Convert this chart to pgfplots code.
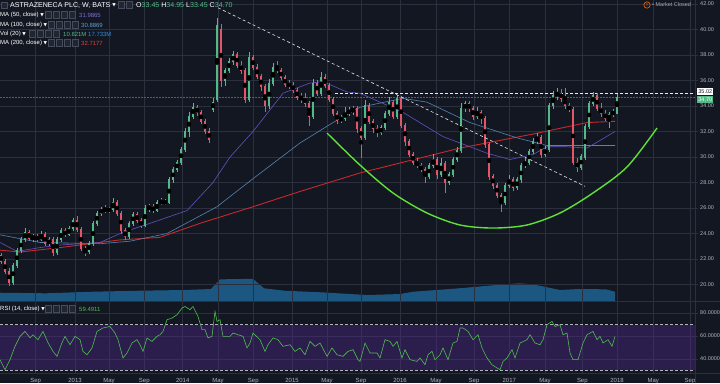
\documentclass[border=0pt]{standalone}
\usepackage{pgfplots}
\pgfplotsset{compat=1.18}
\usepackage{pgfplotstable}
\usepackage{fontspec}
\setmainfont{Liberation Sans}
\newfontfamily\dejavu{DejaVu Sans}
\definecolor{bg}{RGB}{19,23,34}
\definecolor{gridc}{RGB}{44,48,62}
\definecolor{txt}{RGB}{178,181,190}
\definecolor{upc}{RGB}{83,185,135}
\definecolor{dnc}{RGB}{226,86,104}
\definecolor{maA}{RGB}{98,82,190}
\definecolor{maAt}{RGB}{130,110,220}
\definecolor{maB}{RGB}{84,132,176}
\definecolor{maBt}{RGB}{95,160,215}
\definecolor{maC}{RGB}{200,40,45}
\definecolor{maCt}{RGB}{235,60,60}
\definecolor{volc}{RGB}{30,95,140}
\definecolor{volt}{RGB}{50,140,220}
\definecolor{rsic}{RGB}{80,190,80}
\definecolor{band}{RGB}{80,40,140}
\definecolor{cup}{RGB}{95,225,55}
\definecolor{iconc}{RGB}{70,76,92}
\definecolor{iconf}{RGB}{32,37,50}

\pgfplotstableread{
t o h l c
13 20.2 21.7 20.0 21.5
17 21.5 22.9 21.3 22.7
21 22.7 23.7 22.5 23.5
25 23.5 24.4 23.3 24.1
33 23.6 24.0 23.3 23.8
41 23.5 24.2 23.4 23.9
49 23.2 23.7 23.0 23.5
57 22.5 23.7 22.3 23.5
61 23.5 24.4 23.3 24.2
69 23.9 24.6 23.8 24.4
73 24.4 25.2 24.2 25.0
89 22.6 23.4 22.4 23.2
93 23.2 25.0 23.0 24.8
97 24.8 25.8 24.6 25.6
101 25.6 26.1 25.4 25.9
109 25.8 26.1 25.6 25.9
113 25.9 26.8 25.7 26.4
129 23.8 25.0 23.6 24.8
133 24.8 25.7 24.6 25.5
145 24.6 26.2 24.5 26.0
149 26.0 26.3 25.7 26.1
157 25.8 26.6 25.7 26.4
161 26.4 26.8 26.2 26.5
169 26.4 28.4 26.3 28.2
173 28.2 29.2 28.0 29.0
177 29.0 29.8 28.8 29.6
181 29.6 30.8 29.4 30.6
185 30.6 32.3 30.4 32.0
189 32.0 33.5 31.6 33.2
193 33.2 34.2 33.0 33.9
213 33.7 34.6 33.5 34.3
217 34.5 40.9 34.3 40.3
225 36.0 37.0 35.6 36.8
229 36.8 37.8 36.6 37.5
233 37.5 38.3 37.2 38.0
249 34.5 38.2 34.3 37.8
269 34.0 36.1 33.8 35.8
273 35.8 37.4 35.6 37.0
313 33.2 36.1 33.0 35.8
321 35.0 36.7 34.8 36.2
341 32.9 33.3 32.7 33.0
345 33.0 33.9 32.8 33.5
349 33.5 33.9 33.2 33.6
353 33.6 34.0 33.3 33.8
365 31.5 34.5 31.3 34.0
381 31.9 32.5 31.7 32.3
385 32.3 33.6 32.1 33.4
389 33.4 34.7 33.2 34.3
397 33.2 34.9 33.0 34.6
429 28.5 29.5 28.3 29.3
433 29.3 30.2 29.1 29.8
441 28.6 29.9 28.4 29.5
449 28.0 28.8 27.8 28.6
453 28.6 30.0 28.4 29.8
457 29.8 30.8 29.6 30.5
461 30.5 34.2 30.3 33.8
465 33.8 34.4 33.5 34.2
477 33.2 33.9 33.0 33.5
505 26.4 28.0 26.2 27.8
509 27.8 28.6 27.6 28.2
517 27.6 28.4 27.4 28.2
521 28.2 29.5 28.0 29.3
525 29.3 29.9 29.1 29.6
529 29.6 30.6 29.4 30.4
533 30.4 31.5 30.2 31.2
537 31.2 31.9 31.0 31.5
545 30.2 30.9 30.0 30.6
549 30.6 34.2 30.4 34.0
553 34.0 35.2 33.8 34.8
557 34.8 35.4 34.5 35.0
581 29.2 30.2 29.0 30.0
585 30.0 32.6 29.8 32.4
589 32.4 34.4 32.2 34.2
593 34.2 35.1 34.0 34.8
609 33.0 33.5 32.3 33.3
613 33.3 33.8 33.1 33.6
617 33.45 34.95 33.45 34.7
}\upT

\pgfplotstableread{
t o h l c
1 22.3 22.5 21.6 21.8
5 21.8 22.0 20.8 21.0
9 21.0 21.3 19.9 20.2
29 24.1 24.3 23.4 23.6
37 23.8 24.0 23.3 23.5
45 23.9 24.1 23.0 23.2
53 23.5 23.7 22.2 22.5
65 24.2 24.4 23.7 23.9
77 25.0 25.4 24.1 24.3
81 24.3 24.5 22.6 22.8
85 22.8 23.0 22.2 22.6
105 25.9 26.2 25.6 25.8
117 26.4 26.6 25.4 25.6
121 25.6 25.8 24.0 24.2
125 24.2 24.4 23.5 23.8
137 25.5 25.7 24.8 25.0
141 25.0 25.2 24.4 24.6
153 26.1 26.3 25.6 25.8
165 26.5 26.7 26.2 26.4
197 33.9 34.1 33.2 33.5
201 33.5 33.7 32.6 32.8
205 32.8 33.0 31.8 32.0
209 32.0 32.3 31.1 31.4
221 40.0 40.4 35.5 36.0
237 38.0 38.2 37.0 37.2
241 37.2 37.5 36.5 36.8
245 36.8 37.0 34.2 34.5
253 37.8 38.0 36.8 37.0
257 37.0 37.3 36.1 36.3
261 36.3 36.5 35.2 35.5
265 35.5 35.7 33.5 34.0
277 37.0 37.5 36.6 36.8
281 36.8 37.0 36.0 36.2
285 36.2 36.4 35.5 35.7
289 35.7 36.0 35.3 35.6
293 35.6 35.9 35.0 35.2
297 35.2 35.4 34.5 34.7
301 34.7 35.0 34.2 34.6
305 34.6 35.0 33.9 34.2
309 34.2 34.4 32.4 33.2
317 35.8 36.0 34.8 35.0
325 36.2 36.5 35.4 35.6
329 35.6 35.8 34.3 34.5
333 34.5 34.7 33.2 33.4
337 33.4 33.6 32.6 32.9
357 33.8 34.0 31.9 32.2
361 32.2 32.4 29.9 31.5
369 34.0 34.2 32.6 32.8
373 32.8 33.0 31.9 32.2
377 32.2 32.5 31.6 31.9
393 34.3 34.5 33.0 33.2
401 34.6 34.8 32.3 32.5
405 32.5 32.7 30.9 31.2
409 31.2 31.4 30.0 30.2
413 30.2 30.4 29.4 29.6
417 29.6 29.9 29.1 29.3
421 29.3 29.5 28.8 29.0
425 29.0 29.2 28.0 28.5
437 29.8 30.0 28.3 28.6
445 29.5 29.7 27.2 28.0
469 34.2 34.4 33.5 33.8
473 33.8 34.0 32.9 33.2
481 33.5 33.7 32.6 33.0
485 33.0 33.2 30.7 31.0
489 31.0 31.2 28.2 28.5
493 28.5 28.7 27.5 27.8
497 27.8 28.0 26.8 27.0
501 27.0 27.2 25.7 26.4
513 28.2 28.4 27.3 27.6
541 31.5 31.7 29.9 30.2
561 35.0 35.3 34.3 34.6
565 34.6 35.4 33.8 34.0
569 34.0 34.2 33.5 33.7
573 33.7 33.9 29.4 29.6
577 29.6 29.9 28.8 29.2
597 34.8 35.0 33.6 33.8
601 33.8 34.2 33.1 33.4
605 33.4 33.7 32.8 33.0
}\dnT

\pgfplotstableread{
t v
0 23.3
17 22.6
40 22.9
60 23.1
100 23.3
123 24.1
150 24.8
187 25.8
213 28.0
230 30.0
253 32.0
283 35.0
310 35.8
323 35.9
347 35.1
360 35.0
403 33.5
443 31.6
487 30.3
510 29.8
533 30.2
547 30.8
567 30.8
587 30.7
600 31.3
615 32.0
}\maFifty

\pgfplotstableread{
t v
0 23.9
40 23.3
100 23.2
130 23.4
167 24.0
217 26.1
230 26.9
253 28.3
300 31.1
333 32.7
360 33.9
403 34.6
427 34.3
470 32.7
517 31.5
547 30.9
587 30.9
615 30.9
}\maHundred

\pgfplotstableread{
t v
0 22.7
20 22.55
60 22.9
120 23.5
160 23.7
200 24.8
253 26.1
300 27.3
360 28.75
460 30.7
533 31.8
587 32.7
615 32.8
}\maTwoHundred

\pgfplotstableread{
t v
0 15.8
46 14.7
92 17.7
138 19.6
184 21.0
211 22.9
220 41.4
243 42.0
253 42.5
264 24.2
285 19.6
321 16.6
367 11.4
400 13.3
413 17.7
459 24.2
496 30.5
519 33.8
533 31.8
560 21.0
579 22.9
606 22.3
615 17.7
}\volMA

\pgfplotstableread{
t v
0 39.4
5 30.7
10 39.4
15 51.0
20 59.7
25 64.0
30 58.5
33 61.1
38 56.8
43 64.0
48 54.2
53 46.6
57 42.3
62 54.2
65 59.7
70 52.4
75 59.7
80 56.8
83 46.6
87 43.7
92 49.6
97 64.0
103 67.0
110 68.3
115 62.6
118 56.8
123 40.9
127 45.2
132 53.9
137 56.8
140 52.4
143 46.6
147 58.3
152 55.3
157 59.7
160 61.1
163 64.0
167 74.2
172 75.6
177 78.5
182 84.3
185 85.7
190 82.9
193 85.7
198 77.0
202 65.5
205 65.5
208 58.3
212 59.7
215 81.4
217 72.7
220 74.2
223 59.7
230 59.7
233 62.6
238 61.1
243 59.7
247 49.6
250 53.9
253 62.6
260 56.8
265 46.6
268 52.4
273 58.3
278 56.8
283 51.0
290 52.4
295 46.6
300 49.6
305 43.7
310 55.3
315 51.0
320 53.9
327 42.3
332 49.6
337 43.7
343 42.3
348 46.6
353 48.1
358 39.4
360 37.9
365 53.9
370 45.2
377 45.2
380 40.9
385 56.8
390 55.3
393 51.0
397 55.3
402 40.9
405 48.1
410 39.4
417 37.9
420 40.9
425 35.0
428 43.7
432 46.6
435 39.4
440 43.7
443 49.6
448 39.4
453 53.9
457 55.3
460 67.0
463 67.0
468 64.0
473 56.8
478 61.1
482 49.6
487 40.9
492 35.0
497 32.2
500 30.7
503 37.9
507 40.9
512 48.1
515 40.9
520 53.9
527 56.8
530 61.1
535 53.9
540 52.4
543 56.8
547 69.8
552 72.7
555 68.3
560 69.8
563 61.1
567 62.6
570 45.2
573 39.4
578 39.4
583 53.9
587 61.1
593 64.0
597 56.8
600 59.7
603 53.9
608 56.8
612 51.0
615 59.7
}\rsiT

\newcommand{\tinyf}{\fontsize{5.5}{6}\selectfont}
\newcommand{\legf}{\fontsize{6}{7}\selectfont}
\newcommand{\dd}{{\dejavu\fontsize{4.5}{5}\selectfont\raisebox{0.3bp}{▼}}}

\begin{document}
\begin{tikzpicture}[x=1bp,y=1bp]
\fill[bg] (0,0) rectangle (720,383);

% volume MA area
\begin{axis}[at={(0bp,82bp)}, anchor=south west, scale only axis, width=695bp, height=301bp,
  xmin=0, xmax=695, ymin=0, ymax=575, hide axis]
\addplot[fill=volc, draw=none, fill opacity=0.9] table[x=t,y=v] {\volMA} \closedcycle;
\end{axis}

% price pane
\begin{axis}[at={(0bp,82bp)}, anchor=south west, scale only axis, width=695bp, height=301bp,
  xmin=0, xmax=695, ymin=18.71, ymax=42.31,
  axis x line*=bottom, axis y line*=right,
  axis line style={gridc, line width=0.8bp},
  xtick={35.7,75,109,144.3,182.7,218,253.3,292,327,361,400,436,474,509.3,545,582.3,617,653.3,690},
  xticklabels={}, xtick style={draw=none},
  ytick={20,22,24,26,28,30,32,34,36,38,40,42},
  ytick style={draw=gridc, line width=0.6bp}, major tick length=3bp, tick align=outside,
  grid=major, major grid style={gridc, line width=0.5bp},
  yticklabel style={font=\tinyf, text=txt, inner sep=0pt, xshift=2bp,
    /pgf/number format/fixed, /pgf/number format/fixed zerofill,
    /pgf/number format/precision=2, /pgf/number format/assume math mode=true}]
% price lines
\addplot[draw=upc!55!bg, line width=0.5bp, dash pattern=on 1.5bp off 1.5bp] coordinates {(0,34.70) (695,34.70)};
\addplot[draw=white!85!gray, line width=0.6bp, dash pattern=on 3bp off 2bp] coordinates {(335,35.02) (695,35.02)};
% moving averages
\addplot[maC, line width=0.9bp] table[x=t,y=v] {\maTwoHundred};
\addplot[maB, line width=0.6bp] table[x=t,y=v] {\maHundred};
\addplot[maA, line width=0.6bp] table[x=t,y=v] {\maFifty};
% candles: wicks
\addplot[only marks, mark=none, error bars/.cd, y dir=both, y explicit, error mark=none,
  error bar style={draw=upc, line width=0.6bp}]
  table[x=t, y expr={(\thisrow{h}+\thisrow{l})/2}, y error expr={(\thisrow{h}-\thisrow{l})/2}] {\upT};
\addplot[only marks, mark=none, error bars/.cd, y dir=both, y explicit, error mark=none,
  error bar style={draw=dnc, line width=0.6bp}]
  table[x=t, y expr={(\thisrow{h}+\thisrow{l})/2}, y error expr={(\thisrow{h}-\thisrow{l})/2}] {\dnT};
% candles: bodies
\addplot[only marks, mark=none, error bars/.cd, y dir=both, y explicit, error mark=none,
  error bar style={draw=upc, line width=2.1bp}]
  table[x=t, y expr={(\thisrow{o}+\thisrow{c})/2}, y error expr={abs(\thisrow{c}-\thisrow{o})/2+0.04}] {\upT};
\addplot[only marks, mark=none, error bars/.cd, y dir=both, y explicit, error mark=none,
  error bar style={draw=dnc, line width=2.1bp}]
  table[x=t, y expr={(\thisrow{o}+\thisrow{c})/2}, y error expr={abs(\thisrow{c}-\thisrow{o})/2+0.04}] {\dnT};
% trend line
\addplot[draw=white!80!gray, line width=0.6bp, dash pattern=on 3bp off 2.5bp] coordinates {(218,41.7) (585,27.7)};
% cup
\addplot[cup, line width=1.4bp, smooth] coordinates {(327,31.88) (360,29.37) (393,27.18) (427,25.61) (460,24.67) (493,24.43) (527,24.67) (560,25.61) (593,27.18) (627,29.22) (657,32.27)};
\end{axis}

% RSI pane
\begin{axis}[at={(0bp,10bp)}, anchor=south west, scale only axis, width=695bp, height=71bp,
  xmin=0, xmax=695, ymin=27.8, ymax=89.6,
  axis x line*=bottom, axis y line*=right,
  axis line style={gridc, line width=0.8bp},
  xtick={35.7,75,109,144.3,182.7,218,253.3,292,327,361,400,436,474,509.3,545,582.3,617,653.3,690},
  xticklabels={Sep,2013,May,Sep,2014,May,Sep,2015,May,Sep,2016,May,Sep,2017,May,Sep,2018,May,Sep},
  xtick style={draw=none},
  ytick={40,60,80},
  ytick style={draw=gridc, line width=0.6bp}, major tick length=3bp, tick align=outside,
  grid=major, major grid style={gridc, line width=0.5bp},
  xticklabel style={font=\legf, text=txt, inner sep=0pt, yshift=-2bp},
  yticklabel style={font=\tinyf, text=txt, inner sep=0pt, xshift=2bp,
    /pgf/number format/fixed, /pgf/number format/fixed zerofill,
    /pgf/number format/precision=4, /pgf/number format/assume math mode=true}]
\addplot[draw=none, fill=band, fill opacity=0.4] coordinates {(0,30) (695,30) (695,70) (0,70)};
\addplot[draw=txt, line width=0.5bp, dash pattern=on 3bp off 2bp] coordinates {(0,70) (695,70)};
\addplot[draw=txt, line width=0.5bp, dash pattern=on 3bp off 2bp] coordinates {(0,30) (695,30)};
\addplot[rsic, line width=0.6bp] table[x=t,y=v] {\rsiT};
\end{axis}

% separators
\draw[gridc, line width=0.8bp] (0,81.5) -- (720,81.5);
\draw[gridc, line width=0.8bp] (695,0) -- (695,383);
\draw[gridc, line width=0.8bp] (0,9.5) -- (720,9.5);

% legend rows
\begin{scope}[every node/.style={inner sep=0pt, anchor=west}]
\draw[iconc, line width=0.4bp, fill=iconf] (1,375) rectangle ++(6,6);
\node[font=\fontsize{7.1}{8}\selectfont, text=white] at (10,378) {ASTRAZENECA PLC, W, BATS \dd};
\foreach \xx in {118,126} {\draw[iconc, line width=0.4bp, fill=iconf] (\xx,375) rectangle ++(6.5,6.5);}
\node[font=\fontsize{7.1}{8}\selectfont, text=white] at (136,378) {O\textcolor{upc}{33.45} H\textcolor{upc}{34.95} L\textcolor{upc}{33.45} C\textcolor{upc}{34.70}};

\node[font=\legf, text=white] at (0,368) {MA (50, close) \dd};
\foreach \xx in {45,53,61,69} {\draw[iconc, line width=0.4bp, fill=iconf] (\xx,365) rectangle ++(6.5,6.5);}
\node[font=\legf, text=maAt] at (79,368) {31.9865};

\node[font=\legf, text=white] at (0,358) {MA (100, close) \dd};
\foreach \xx in {48,56,64,72} {\draw[iconc, line width=0.4bp, fill=iconf] (\xx,355) rectangle ++(6.5,6.5);}
\node[font=\legf, text=maBt] at (81,358) {30.8869};

\node[font=\legf, text=white] at (0,349) {Vol (20) \dd};
\foreach \xx in {29,37,45,53} {\draw[iconc, line width=0.4bp, fill=iconf] (\xx,346) rectangle ++(6.5,6.5);}
\node[font=\legf, text=upc] at (63,349) {10.821M};
\node[font=\legf, text=volt] at (88,349) {17.733M};

\node[font=\legf, text=white] at (0,340) {MA (200, close) \dd};
\foreach \xx in {48,56,64,72} {\draw[iconc, line width=0.4bp, fill=iconf] (\xx,337) rectangle ++(6.5,6.5);}
\node[font=\legf, text=maCt] at (81,340) {32.7177};

\node[font=\legf, text=white] at (0,74) {RSI (14, close) \dd};
\foreach \xx in {45,53,61,69} {\draw[iconc, line width=0.4bp, fill=iconf] (\xx,71) rectangle ++(6.5,6.5);}
\node[font=\legf, text=rsic] at (79,74) {59.4911};

% market closed
\draw[orange!80!red, line width=0.6bp] (647,378) circle (3.2bp);
\node[anchor=center, font=\fontsize{4.5}{5}\selectfont\bfseries, text=orange!80!red] at (647,378) {!};
\node[font=\tinyf, text=txt!80!gray] at (652,378) {\textbullet\ Market Closed};

% last price labels
\node[fill=white, text=bg, font=\tinyf, inner xsep=1.2bp, inner ysep=1.2bp] at (697,291.5) {35.02};
\node[fill=upc, text=white, font=\tinyf, inner xsep=1.2bp, inner ysep=1.2bp] at (697,283.5) {34.70};
\end{scope}

\pgfresetboundingbox
\path[use as bounding box] (0,0) rectangle (720,383);
\end{tikzpicture}
\end{document}
